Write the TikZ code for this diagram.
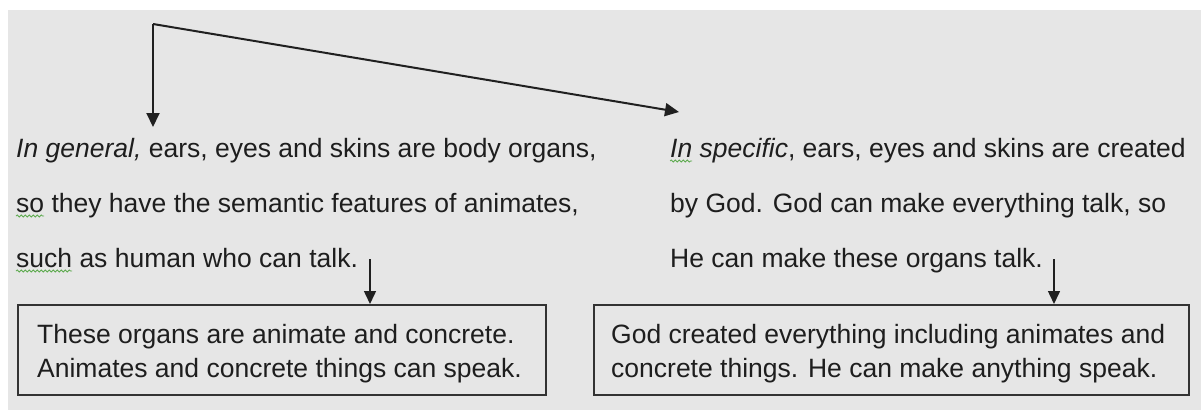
\documentclass[tikz,border=0pt]{standalone}
\usepackage{fontspec}
\setmainfont{Liberation Sans}
\usetikzlibrary{arrows.meta,decorations.pathmorphing}
\definecolor{bgc}{HTML}{E6E6E6}
\definecolor{txt}{HTML}{1E1E1E}
\definecolor{linec}{HTML}{202020}
\definecolor{boxc}{HTML}{333333}
\definecolor{squigc}{HTML}{5DAA4E}
\begin{document}
\begin{tikzpicture}[x=1pt,y=-1pt,
  para/.style={anchor=base west, inner sep=0pt, font=\fontsize{26.5}{30}\selectfont, text=txt},
  box/.style={draw=boxc, line width=2pt, anchor=north west, inner sep=0pt, minimum height=90pt},
  conn/.style={line width=2pt, draw=linec, -{Triangle[length=14pt,width=13pt]}},
  conn2/.style={line width=1.5pt, draw=linec, -{Triangle[length=13pt,width=12pt]}},
  squig/.style={draw=squigc, line width=0.8pt, decorate, decoration={snake, amplitude=1pt, segment length=4pt}}]
\useasboundingbox (0,0) rectangle (1201,410);
\fill[white] (0,0) rectangle (1201,410);
\fill[bgc] (8,10) rectangle (1201,410);

% top connector
\coordinate (corner) at (153,24);
\coordinate (tipL) at (153,127);
\coordinate (tipR) at (679,112);
\draw[conn] (corner) -- (tipL);
\draw[conn] (corner) -- (tipR);

% left paragraph
\node[para] (l1) at (16,157) {\textit{In general,} ears, eyes and skins are body organs,};
\node[para] (l2) at (16,212) {so they have the semantic features of animates,};
\node[para] (l3) at (16,267) {such as human who can talk.};
\draw[squig] ([yshift=-4pt]l2.base west) -- ++(28,0);
\draw[squig] ([yshift=-4pt]l3.base west) -- ++(56,0);

% right paragraph
\node[para] (r1) at (670,157) {\textit{In specific}, ears, eyes and skins are created};
\node[para] (r2) at (670,212) {by God. God can make everything talk, so};
\node[para] (r3) at (670,267) {He can make these organs talk.};
\draw[squig] ([yshift=-4pt]r1.base west) -- ++(22,0);

% boxes
\node[box, minimum width=528pt] (b1) at (17,304) {};
\node[box, minimum width=595pt] (b2) at (593,304) {};
\node[para] (b1a) at (37,343) {These organs are animate and concrete.};
\node[para] (b1b) at (37,377) {Animates and concrete things can speak.};
\node[para] (b2a) at (611,343) {God created everything including animates and};
\node[para] (b2b) at (611,377) {concrete things. He can make anything speak.};

% small arrows
\coordinate (s1) at (370,259);
\coordinate (s2) at (1054,259);
\draw[conn2] (s1) -- (s1 |- b1.north);
\draw[conn2] (s2) -- (s2 |- b2.north);
\end{tikzpicture}
\end{document}
